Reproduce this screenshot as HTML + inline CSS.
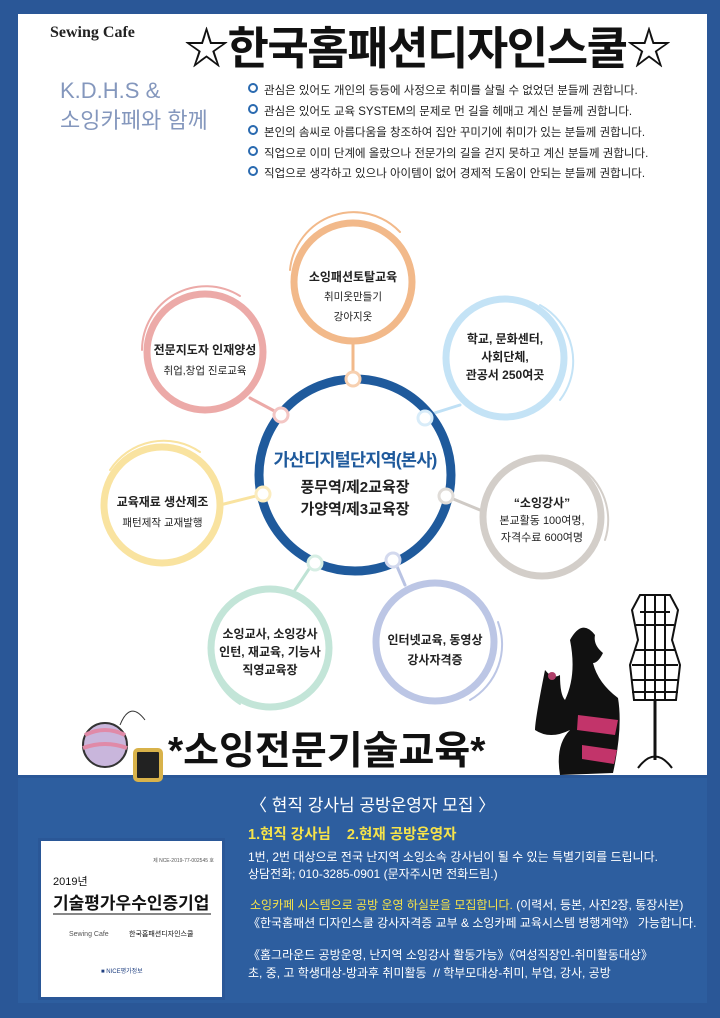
<!DOCTYPE html>
<html><head><meta charset="utf-8"><style>
*{margin:0;padding:0;box-sizing:border-box}
body{width:720px;height:1018px;background:#2a5797;position:relative;overflow:hidden;font-family:"Liberation Sans","Noto Sans CJK KR",sans-serif}
.panel{position:absolute;left:18px;top:14px;width:689px;height:761px;background:#fff}
.bot{position:absolute;left:18px;top:778px;width:689px;height:225px;background:#2d5e9f}
.t{position:absolute;white-space:nowrap}
.bul{position:absolute;left:248px;font-size:11.5px;color:#222;white-space:nowrap}
.bul::before{content:"";display:inline-block;width:6px;height:6px;border:2px solid #2a6ab0;border-radius:50%;margin-right:6px;vertical-align:1px}
.w{color:#fff;font-size:12px}
</style></head><body>
<div class="panel"></div>
<div class="bot"></div>
<div class="t" style="left:50px;top:24px;font-family:'Liberation Serif',serif;font-size:16px;font-weight:bold;color:#222">Sewing Cafe</div>
<div class="t" style="left:184px;top:12px;font-size:45px;font-weight:bold;color:#111;letter-spacing:-1.5px">☆한국홈패션디자인스쿨☆</div>
<div class="t" style="left:60px;top:76px;font-size:22px;color:#8497bd;line-height:30px">K.D.H.S &amp;<br>소잉카페와 함께</div>
<div class="bul" style="top:82px">관심은 있어도 개인의 등등에 사정으로 취미를 살릴 수 없었던 분들께 권합니다.</div>
<div class="bul" style="top:103px">관심은 있어도 교육 SYSTEM의 문제로 먼 길을 헤매고 계신 분들께 권합니다.</div>
<div class="bul" style="top:124px">본인의 솜씨로 아름다움을 창조하여 집안 꾸미기에 취미가 있는 분들께 권합니다.</div>
<div class="bul" style="top:145px">직업으로 이미 단계에 올랐으나 전문가의 길을 걷지 못하고 계신 분들께 권합니다.</div>
<div class="bul" style="top:165px">직업으로  생각하고 있으나 아이템이 없어 경제적 도움이 안되는 분들께 권합니다.</div>

<svg style="position:absolute;left:0;top:0" width="720" height="1018">
<g fill="none" stroke-linecap="round">
<line x1="353" y1="340" x2="353" y2="378" stroke="#f2b98a" stroke-width="3"/>
<line x1="250" y1="398" x2="280" y2="414" stroke="#ecaaa8" stroke-width="3"/>
<line x1="460" y1="405" x2="425" y2="416" stroke="#bfe0f5" stroke-width="3"/>
<line x1="220" y1="505" x2="260" y2="495" stroke="#f9e3a0" stroke-width="3"/>
<line x1="480" y1="510" x2="446" y2="496" stroke="#cfcac5" stroke-width="3"/>
<line x1="295" y1="590" x2="315" y2="560" stroke="#bfe3d5" stroke-width="3"/>
<line x1="405" y1="585" x2="393" y2="557" stroke="#b9c3e3" stroke-width="3"/>
<circle cx="355" cy="475" r="96" stroke="#1f5a9c" stroke-width="9"/>
<circle cx="353" cy="282" r="59" stroke="#f2b98a" stroke-width="7"/>
<path d="M290 270 A64 64 0 0 1 400 232" stroke="#f2b98a" stroke-width="2"/>
<circle cx="205" cy="352" r="58" stroke="#ecaaa8" stroke-width="7"/>
<path d="M142 350 A64 64 0 0 1 240 296" stroke="#ecaaa8" stroke-width="2"/>
<circle cx="505" cy="358" r="59" stroke="#c4e3f6" stroke-width="7"/>
<path d="M540 305 A64 64 0 0 1 560 400" stroke="#c4e3f6" stroke-width="2"/>
<circle cx="162" cy="505" r="58" stroke="#f9e3a0" stroke-width="7"/>
<path d="M110 470 A64 64 0 0 1 200 452" stroke="#f9e3a0" stroke-width="2"/>
<circle cx="542" cy="517" r="59" stroke="#d3cec9" stroke-width="7"/>
<path d="M560 458 A64 64 0 0 1 605 540" stroke="#d3cec9" stroke-width="2"/>
<circle cx="270" cy="648" r="59" stroke="#c3e5d8" stroke-width="7"/>
<path d="M210 650 A64 64 0 0 0 240 704" stroke="#c3e5d8" stroke-width="2"/>
<circle cx="435" cy="642" r="59" stroke="#bcc6e5" stroke-width="7"/>
<path d="M498 622 A64 64 0 0 1 470 700" stroke="#bcc6e5" stroke-width="2"/>
</g>
<g fill="#fff" stroke-width="3">
<circle cx="353" cy="379" r="7" stroke="#f7d0b0"/>
<circle cx="281" cy="415" r="7" stroke="#f3c6c4"/>
<circle cx="425" cy="418" r="7" stroke="#d8ecf9"/>
<circle cx="263" cy="494" r="7" stroke="#fbecbf"/>
<circle cx="446" cy="496" r="7" stroke="#e0dcd8"/>
<circle cx="315" cy="563" r="7" stroke="#d6eee4"/>
<circle cx="393" cy="560" r="7" stroke="#d3d9ee"/>
</g>
<g stroke="#111" fill="none" stroke-width="2">
<path d="M640 595 L670 595 L678 610 L672 640 L680 665 L676 700 L634 700 L630 665 L638 640 L632 610 Z"/>
<path d="M640 612h30M636 625h38M635 650h40M632 665h46M631 680h48M632 692h46M645 595v105M655 595v105M665 595v105"/>
<line x1="655" y1="700" x2="655" y2="760" stroke-width="3"/>
<path d="M638 768 Q655 745 672 768"/>
</g>
<path d="M570 640 q12 -22 25 -5 q-2 10 8 18 q-5 10 -10 10 q5 20 25 35 q5 30 -5 75 L560 775 q-5 -30 10 -45 q-20 10 -35 0 q0 -10 10 -60 q8 10 15 5 q0 20 5 25 q12 -25 5 -60 Z" fill="#111"/>
<path d="M578 715 l40 5 l-3 15 l-38 -5 Z M582 745 l35 5 l-3 14 l-32 -5 Z" fill="#c2346a"/>
<circle cx="552" cy="676" r="4" fill="#b0406a"/>
<circle cx="105" cy="745" r="22" fill="#c9b6dc" stroke="#333" stroke-width="2"/>
<path d="M85 735 Q105 725 125 735 M83 748 Q105 740 127 748" stroke="#e08aa8" stroke-width="4" fill="none"/>
<rect x="135" y="750" width="26" height="30" rx="3" fill="#222" stroke="#d8b24a" stroke-width="4"/>
<path d="M120 725 Q130 700 145 720" stroke="#333" fill="none"/>
</svg>

<div class="t" style="left:280px;top:268px;font-size:12px;font-weight:bold;color:#222;text-align:center;width:146px;line-height:19px">소잉패션토탈교육<br><span style="font-weight:normal;font-size:10.5px">취미옷만들기<br>강아지옷</span></div>
<div class="t" style="left:135px;top:340px;font-size:12px;font-weight:bold;color:#222;text-align:center;width:140px;line-height:20px">전문지도자 인재양성<br><span style="font-weight:normal;font-size:10.5px">취업,창업 진로교육</span></div>
<div class="t" style="left:440px;top:330px;font-size:12px;font-weight:bold;color:#222;text-align:center;width:130px;line-height:18px">학교, 문화센터,<br>사회단체,<br>관공서 250여곳</div>
<div class="t" style="left:95px;top:498px;font-size:12px;font-weight:bold;color:#222;text-align:center;width:135px;line-height:20px;margin-top:-6px">교육재료 생산제조<br><span style="font-weight:normal;font-size:10.5px">패턴제작 교재발행</span></div>
<div class="t" style="left:477px;top:495px;font-size:11px;color:#222;text-align:center;width:130px;line-height:17px"><b style="font-size:12px">“소잉강사”</b><br>본교활동 100여명,<br>자격수료 600여명</div>
<div class="t" style="left:200px;top:625px;font-size:12px;font-weight:bold;color:#222;text-align:center;width:140px;line-height:18px">소잉교사, 소잉강사<br>인턴, 재교육, 기능사<br>직영교육장</div>
<div class="t" style="left:365px;top:630px;font-size:12px;font-weight:bold;color:#222;text-align:center;width:140px;line-height:20px">인터넷교육, 동영상<br>강사자격증</div>
<div class="t" style="left:255px;top:447px;font-size:17.5px;font-weight:bold;color:#1f5a9c;text-align:center;width:200px;letter-spacing:-0.8px">가산디지털단지역(본사)</div>
<div class="t" style="left:258px;top:477px;font-size:15px;font-weight:bold;color:#222;text-align:center;width:194px;line-height:22px">풍무역/제2교육장<br>가양역/제3교육장</div>
<div class="t" style="left:168px;top:720px;font-size:39px;font-weight:bold;color:#111;letter-spacing:0px">*소잉전문기술교육*</div>

<div style="position:absolute;left:38px;top:838px;width:187px;height:162px;background:#fff;border:3px solid #2a5797">
<div class="t" style="right:8px;top:16px;font-size:5px;color:#555">제 NCE-2019-77-002545 호</div>
<div class="t" style="left:12px;top:32px;font-size:11px;color:#111">2019년</div>
<div class="t" style="left:12px;top:48px;font-size:17px;font-weight:bold;color:#111">기술평가우수인증기업</div>
<div style="position:absolute;left:12px;top:72px;width:158px;border-top:2px solid #888"></div>
<div class="t" style="left:28px;top:90px;font-size:7px;color:#555">Sewing Cafe</div>
<div class="t" style="left:88px;top:88px;font-size:7px;color:#111">한국홈패션디자인스쿨</div>
<div class="t" style="left:60px;top:125px;font-size:6px;color:#1f3f80">■ NICE평가정보</div>
</div>

<div class="t" style="left:250px;top:791px;font-size:17px;color:#fff">〈 현직 강사님 공방운영자 모집 〉</div>
<div class="t" style="left:248px;top:823px;font-size:14.5px;font-weight:bold;color:#f6e34a">1.현직 강사님 &nbsp;&nbsp;&nbsp;2.현재 공방운영자</div>
<div class="t w" style="left:248px;top:848px">1번, 2번 대상으로 전국 난지역 소잉소속 강사님이 될 수 있는 특별기회를 드립니다.</div>
<div class="t w" style="left:248px;top:865px">상담전화; 010-3285-0901 (문자주시면 전화드림.)</div>
<div class="t w" style="left:250px;top:896px"><span style="color:#f6e34a">소잉카페 시스템으로 공방 운영 하실분을 모집합니다.</span> (이력서, 등본, 사진2장, 통장사본)</div>
<div class="t w" style="left:248px;top:914px">《한국홈패션 디자인스쿨 강사자격증 교부 &amp; 소잉카페 교육시스템 병행계약》 가능합니다.</div>
<div class="t w" style="left:248px;top:946px">《홈그라운드 공방운영, 난지역 소잉강사 활동가능》《여성직장인-취미활동대상》</div>
<div class="t w" style="left:248px;top:964px">초, 중, 고 학생대상-방과후 취미활동 &nbsp;// 학부모대상-취미, 부업, 강사, 공방</div>
</body></html>
